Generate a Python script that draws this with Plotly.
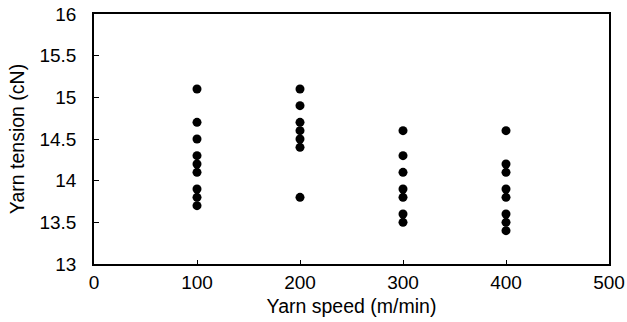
import plotly.graph_objects as go

speeds = [100, 200, 300, 400]
tension_100 = [15.1, 14.7, 14.5, 14.3, 14.2, 14.1, 13.9, 13.8, 13.7]
tension_200 = [15.1, 14.9, 14.7, 14.6, 14.5, 14.4, 13.8]
tension_300 = [14.6, 14.3, 14.1, 13.9, 13.8, 13.6, 13.5]
tension_400 = [14.6, 14.2, 14.1, 13.9, 13.8, 13.6, 13.5, 13.4]

groups = [tension_100, tension_200, tension_300, tension_400]
xs, ys = [], []
for s, g in zip(speeds, groups):
    xs += [s] * len(g)
    ys += g

fig = go.Figure(go.Scatter(x=xs, y=ys, mode="markers",
                           marker=dict(color="black", size=9, symbol="circle")))

font = dict(family="Liberation Sans, Arial, sans-serif", size=19, color="black")
fig.update_layout(
    width=627, height=322,
    margin=dict(l=94, r=18, t=14, b=58),
    plot_bgcolor="white", paper_bgcolor="white",
    showlegend=False,
    font=font,
)
fig.update_xaxes(range=[0, 500], tickvals=[0, 100, 200, 300, 400, 500],
                 ticks="inside", ticklen=4, tickwidth=1, tickcolor="black",
                 showline=True, linecolor="black", linewidth=1.5, mirror=True,
                 showgrid=False, zeroline=False, ticklabelstandoff=0,
                 automargin=False,
                 title=dict(text="Yarn speed (m/min)", standoff=8,
                            font=dict(size=19.5)))
fig.update_yaxes(range=[13, 16], tickvals=[13, 13.5, 14, 14.5, 15, 15.5, 16],
                 ticktext=["13", "13.5", "14", "14.5", "15", "15.5", "16"],
                 ticks="inside", ticklen=5, tickwidth=1, tickcolor="black",
                 showline=True, linecolor="black", linewidth=1.5, mirror=True,
                 showgrid=False, zeroline=False, ticklabelstandoff=12,
                 automargin=False,
                 title=dict(text="Yarn tension (cN)", standoff=10,
                            font=dict(size=19.5)))

fig.write_html("out.html", config={"displayModeBar": False},
               post_script="document.body.style.margin='0';document.body.style.padding='0';")
